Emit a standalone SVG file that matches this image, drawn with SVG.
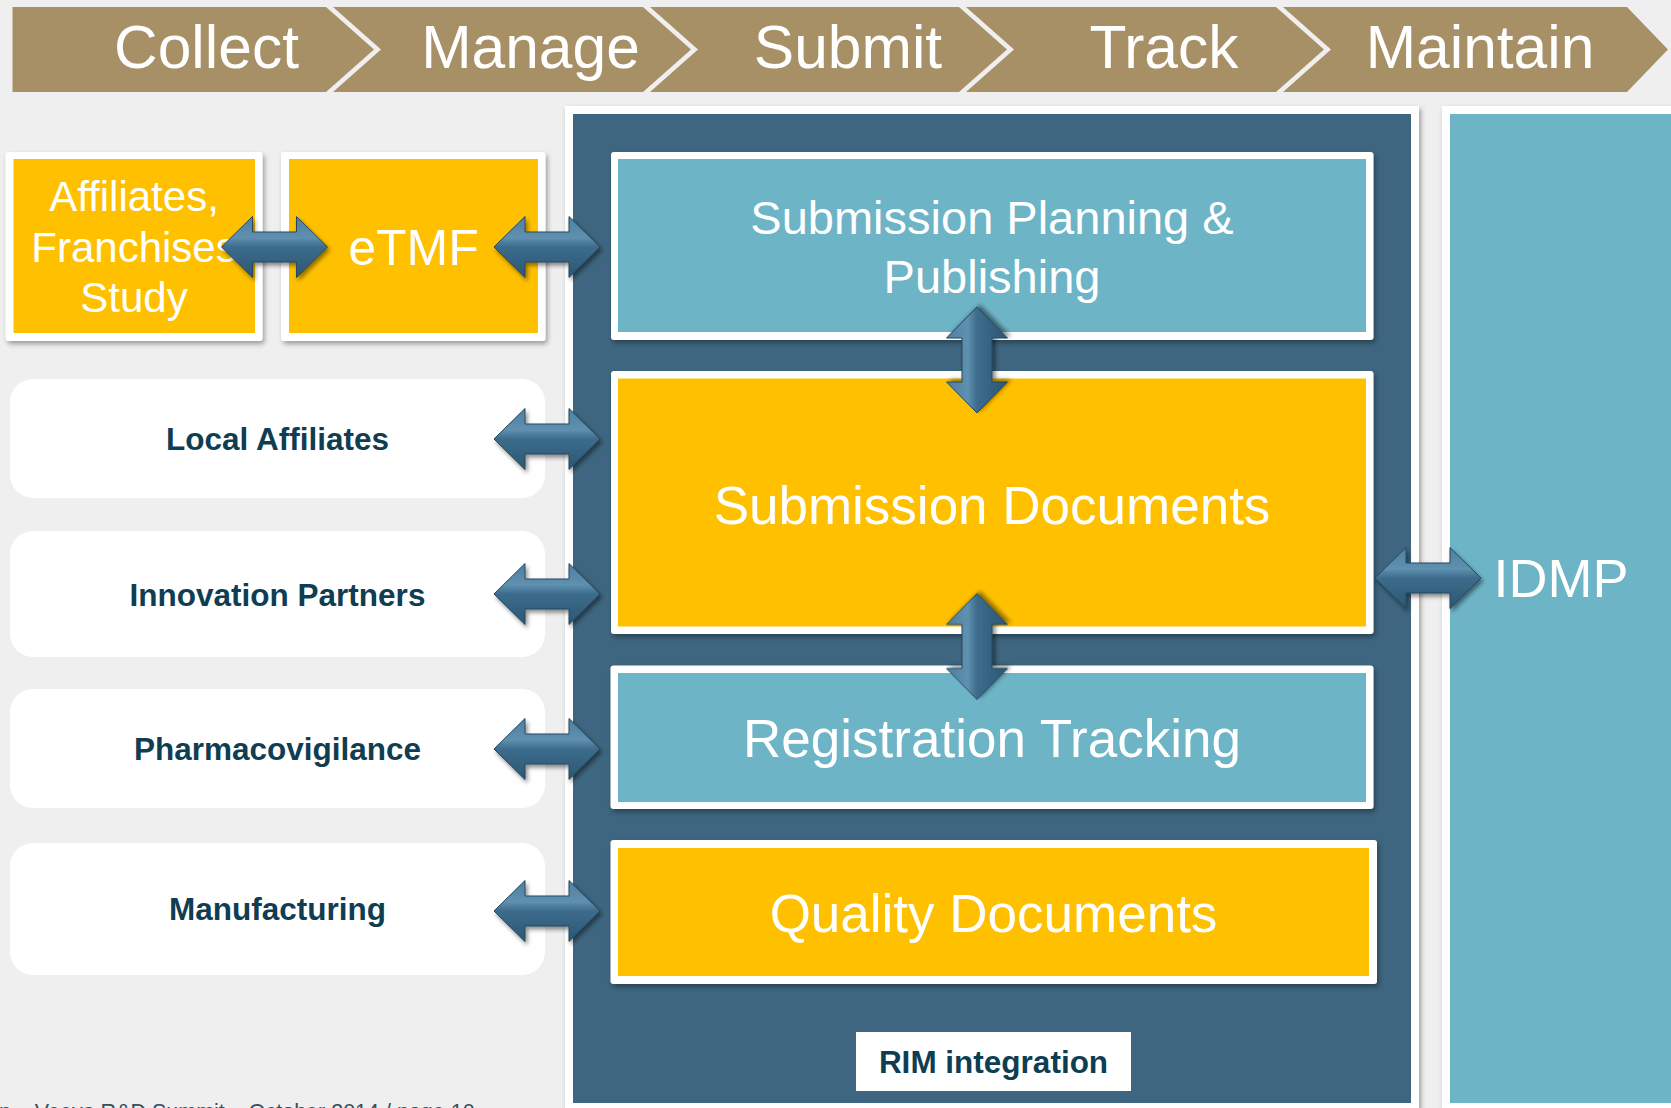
<svg xmlns="http://www.w3.org/2000/svg" xmlns:xlink="http://www.w3.org/1999/xlink" width="1671" height="1108" viewBox="0 0 1671 1108">
<style>
.band{fill:#A89066;}
.bandtxt{font-family:"Liberation Sans",Arial,sans-serif;font-size:60.5px;fill:#FFFFFF;text-anchor:middle;}
.wtxt{font-family:"Liberation Sans",Arial,sans-serif;fill:#FFFFFF;text-anchor:middle;}
.btxt{font-family:"Liberation Sans",Arial,sans-serif;font-weight:bold;font-size:31.5px;fill:#0F3D52;text-anchor:middle;}
.frame{fill:#FFFFFF;filter:url(#shadow);}
.yellow{fill:#FFC000;}
.teal{fill:#6EB4C7;}
.dark{fill:#3E6680;}
.pill{fill:#FFFFFF;}
.arrow{fill:url(#arrowGrad);stroke:#24495F;stroke-width:1;filter:url(#ashadow);}
</style>
<defs>
<filter id="shadow" x="-10%" y="-10%" width="120%" height="120%">
<feDropShadow dx="2" dy="3" stdDeviation="2.5" flood-color="#000000" flood-opacity="0.35"/>
</filter>
<filter id="ashadow" x="-20%" y="-30%" width="140%" height="160%">
<feDropShadow dx="2" dy="3" stdDeviation="2" flood-color="#000000" flood-opacity="0.45"/>
</filter>
<linearGradient id="arrowGrad" x1="0" y1="0" x2="0" y2="1">
<stop offset="0" stop-color="#4F7FA0"/>
<stop offset="0.35" stop-color="#5F90B0"/>
<stop offset="0.5" stop-color="#3D6C8C"/>
<stop offset="1" stop-color="#2B5673"/>
</linearGradient>
<path id="harrow" d="M-53,0 L-22,-30.5 L-22,-15 L22,-15 L22,-30.5 L53,0 L22,30.5 L22,15 L-22,15 L-22,30.5 Z"/>
</defs>

<rect x="0" y="0" width="1671" height="1108" fill="#EFEFEF"/>

<g id="banner">
<polygon class="band" points="12.5,7 326,7 374,49.5 326,92 12.5,92"/>
<polygon class="band" points="333,7 643,7 691,49.5 643,92 333,92 381,49.5"/>
<polygon class="band" points="650,7 959,7 1007,49.5 959,92 650,92 698,49.5"/>
<polygon class="band" points="966,7 1276,7 1324,49.5 1276,92 966,92 1014,49.5"/>
<polygon class="band" points="1283,7 1627,7 1668,49.5 1627,92 1283,92 1331,49.5"/>
<text class="bandtxt" x="206.5" y="68">Collect</text>
<text class="bandtxt" x="530.5" y="68">Manage</text>
<text class="bandtxt" x="848" y="68">Submit</text>
<text class="bandtxt" x="1164" y="68">Track</text>
<text class="bandtxt" x="1480" y="68">Maintain</text>
</g>

<g id="rim-panel">
<rect class="frame" x="565" y="106" width="854" height="1015"/>
<rect class="dark" x="573" y="114" width="838" height="989"/>
</g>

<g id="idmp">
<rect class="frame" x="1442" y="106" width="240" height="1015"/>
<rect class="teal" x="1450" y="114" width="230" height="989"/>
<text class="wtxt" x="1561" y="597" font-size="54">IDMP</text>
</g>

<g id="affiliates-franchises-study">
<rect class="frame" x="5.5" y="152" width="257" height="189" rx="3"/>
<rect class="yellow" x="13.5" y="159" width="241.5" height="174"/>
<text class="wtxt" font-size="42"><tspan x="134" y="210.5">Affiliates,</tspan><tspan x="134" y="261.5">Franchises</tspan><tspan x="134" y="311.5">Study</tspan></text>
</g>

<g id="etmf">
<rect class="frame" x="281" y="152" width="264.5" height="189" rx="3"/>
<rect class="yellow" x="289" y="159" width="249" height="174"/>
<text class="wtxt" x="413.5" y="265" font-size="50">eTMF</text>
</g>

<g id="local-affiliates">
<rect class="pill" x="10" y="379" width="535" height="119" rx="23"/>
<text class="btxt" x="277.5" y="450">Local Affiliates</text>
</g>
<g id="innovation-partners">
<rect class="pill" x="10" y="531" width="535" height="126" rx="23"/>
<text class="btxt" x="277.5" y="605.5">Innovation Partners</text>
</g>
<g id="pharmacovigilance">
<rect class="pill" x="10" y="689" width="535" height="119" rx="23"/>
<text class="btxt" x="277.5" y="760">Pharmacovigilance</text>
</g>
<g id="manufacturing">
<rect class="pill" x="10" y="843" width="535" height="132" rx="23"/>
<text class="btxt" x="277.5" y="920">Manufacturing</text>
</g>

<g id="submission-planning-publishing">
<rect class="frame" x="611" y="152" width="762.5" height="188" rx="3"/>
<rect class="teal" x="618" y="159" width="748" height="173"/>
<text class="wtxt" font-size="47"><tspan x="992" y="233.5">Submission Planning &amp;</tspan><tspan x="992" y="292.5">Publishing</tspan></text>
</g>

<g id="submission-documents">
<rect class="frame" x="611" y="371" width="762.5" height="263" rx="3"/>
<rect class="yellow" x="618" y="378.5" width="748" height="248"/>
<text class="wtxt" x="992" y="524" font-size="53">Submission Documents</text>
</g>

<g id="registration-tracking">
<rect class="frame" x="610.5" y="665.5" width="763" height="143.5" rx="3"/>
<rect class="teal" x="618" y="673" width="748" height="129"/>
<text class="wtxt" x="992" y="757" font-size="53">Registration Tracking</text>
</g>

<g id="quality-documents">
<rect class="frame" x="610.5" y="840" width="766.5" height="144" rx="3"/>
<rect class="yellow" x="618" y="848" width="751" height="128"/>
<text class="wtxt" x="993.5" y="932" font-size="53">Quality Documents</text>
</g>

<g id="rim-integration">
<rect x="856" y="1032" width="275" height="59" fill="#FFFFFF"/>
<text class="btxt" x="993.5" y="1073">RIM integration</text>
</g>

<g id="connectors">
<use xlink:href="#harrow" class="arrow" transform="translate(274.5,247)"/>
<use xlink:href="#harrow" class="arrow" transform="translate(547,247)"/>
<use xlink:href="#harrow" class="arrow" transform="translate(547,439)"/>
<use xlink:href="#harrow" class="arrow" transform="translate(547,594)"/>
<use xlink:href="#harrow" class="arrow" transform="translate(547,749)"/>
<use xlink:href="#harrow" class="arrow" transform="translate(547,911)"/>
<use xlink:href="#harrow" class="arrow" transform="translate(1428,578)"/>
<use xlink:href="#harrow" class="arrow" transform="translate(977,360) rotate(-90)"/>
<use xlink:href="#harrow" class="arrow" transform="translate(977,646.5) rotate(-90)"/>
</g>

<g id="footer">
<text x="-1" y="1118.5" font-family="Liberation Sans, Arial, sans-serif" font-size="21.5" fill="#34505E">n – Veeva R&amp;D Summit – October 2014 / page 10</text>
</g>
</svg>
